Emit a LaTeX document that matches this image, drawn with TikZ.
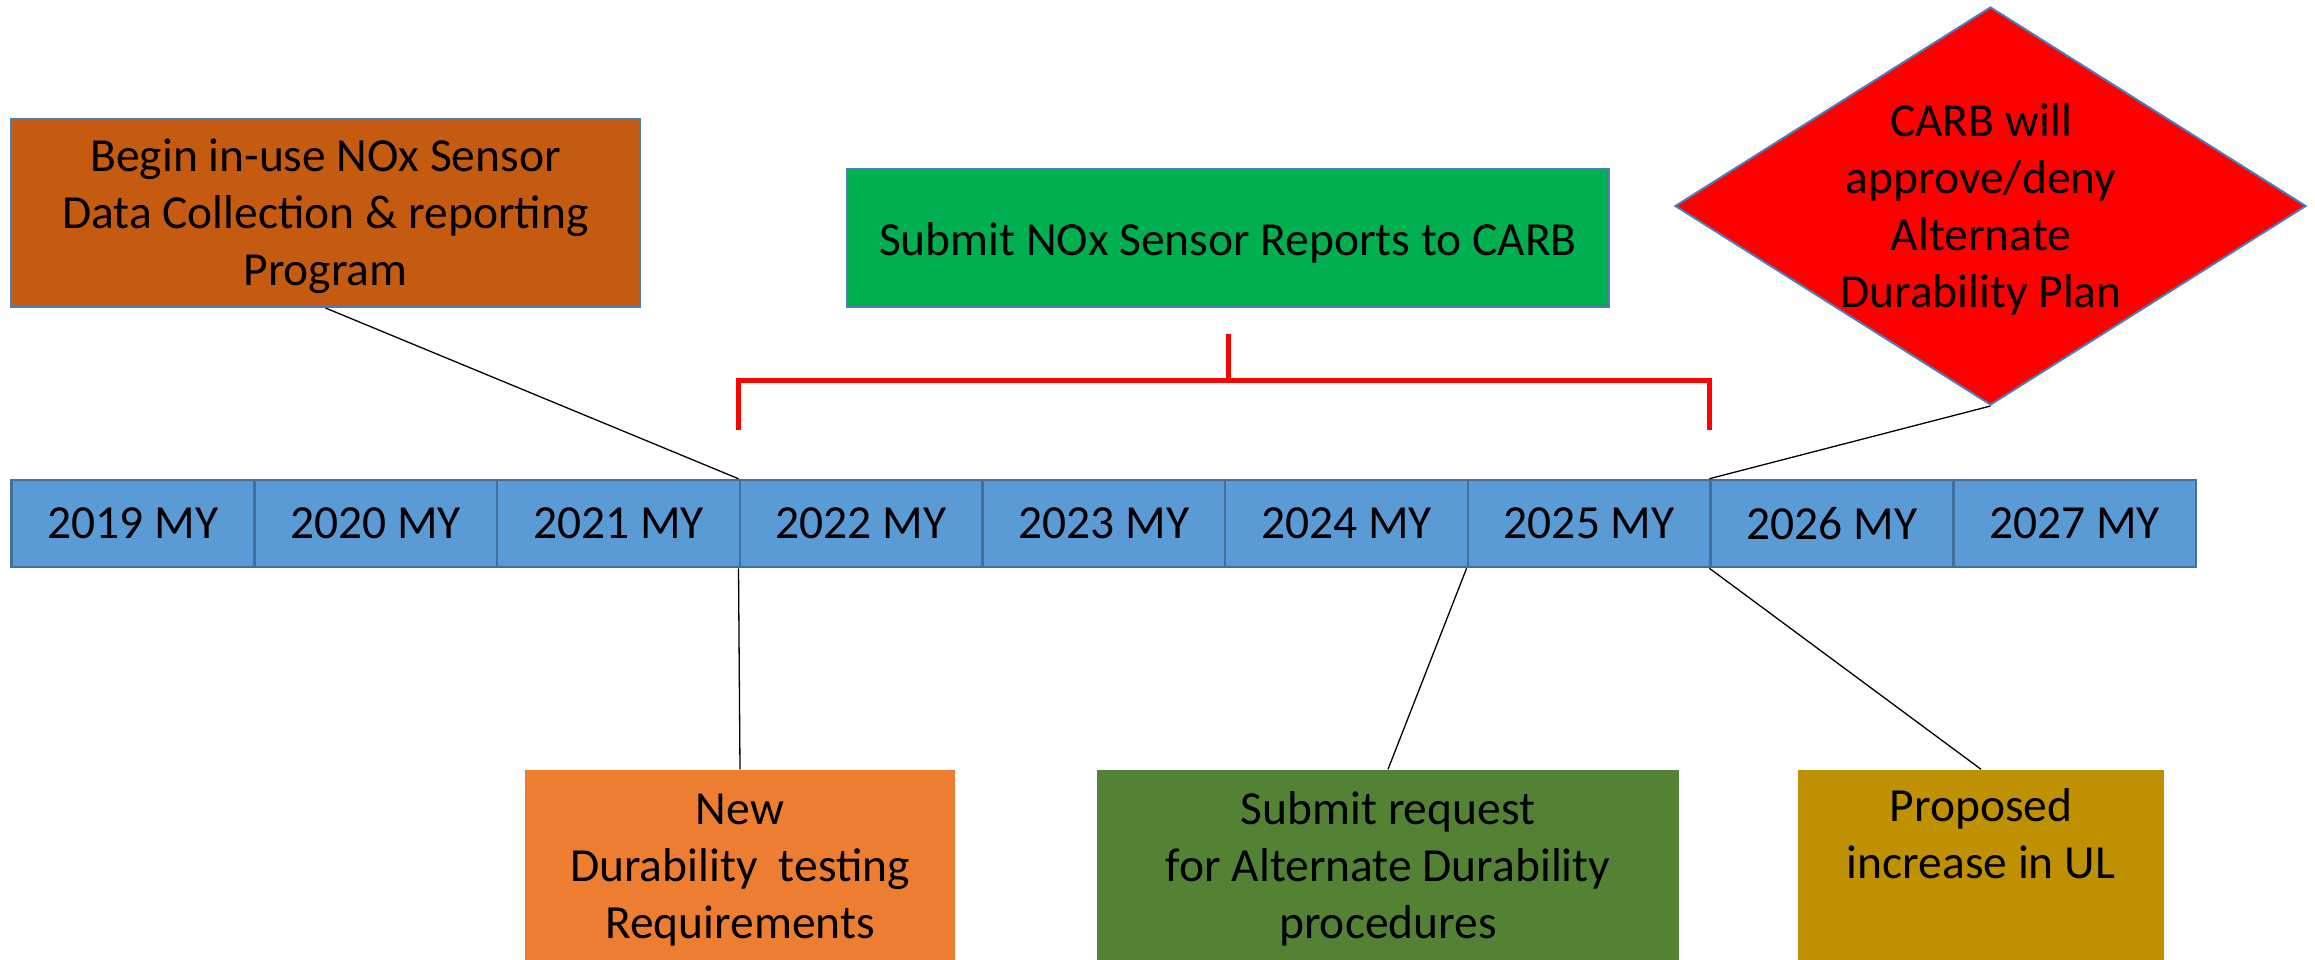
\documentclass[tikz,border=0pt]{standalone}
\usepackage{fontspec}
\setmainfont{Carlito}
\usetikzlibrary{shapes.geometric}

\definecolor{shapeblue}{HTML}{4A7EBB}
\definecolor{cellblue}{HTML}{5B9BD5}
\definecolor{cellline}{HTML}{41719C}
\definecolor{rustbrown}{HTML}{C55A11}
\definecolor{brightgreen}{HTML}{00B050}
\definecolor{pureRed}{HTML}{FF0000}
\definecolor{accentorange}{HTML}{ED7D31}
\definecolor{leafgreen}{HTML}{548235}
\definecolor{mustard}{HTML}{BF9000}

\begin{document}
\begin{tikzpicture}[x=1pt,y=-1pt,
  labelfont/.style={font=\fontsize{47.5}{57}\selectfont},
  box/.style={draw=shapeblue, line width=2pt, inner sep=0pt, align=center, labelfont},
  cell/.style={draw=cellline, fill=cellblue, line width=2.5pt, minimum width=242.7pt,
               minimum height=87pt, inner sep=0pt, labelfont},
  lowbox/.style={inner sep=0pt, minimum height=191pt},
  boxtext/.style={labelfont, align=center, anchor=base, inner sep=0pt},
  link/.style={draw=black, line width=1.3pt},
  bracket/.style={draw=pureRed, line width=5pt}]
\useasboundingbox (0,0) rectangle (2315,960);

% model-year timeline
\foreach \yr [count=\k from 0] in {2019,...,2027}
  \node[cell] (y\yr) at ({133+242.7*\k},523.5) {\yr{} MY};

% upper milestones (multi-line texts are placed by the baseline of their last line)
\node[box, fill=rustbrown, minimum width=629pt, minimum height=188pt] (begin)
  at (325.5,213) {};
\node[boxtext] (begintext) at (325.5,285)
  {Begin in-use NOx Sensor\\Data Collection \& reporting\\Program};
\node[box, fill=brightgreen, minimum width=762pt, minimum height=138pt] (submit)
  at (1228,238) {};
\node[boxtext] (submittext) at (1228,255) {Submit NOx Sensor Reports to CARB};
\node[diamond, draw=shapeblue, fill=pureRed, line width=2pt, inner sep=0pt,
      minimum width=631pt, minimum height=398pt] (carb) at (1990.5,206) {};
\node[boxtext] (carbtext) at (1981,307)
  {CARB will\\approve/deny\\Alternate\\Durability Plan};

% lower milestones
\node[lowbox, fill=accentorange, minimum width=430pt] (newreq) at (740,865) {};
\node[boxtext] (newreqtext) at (740,938)
  {New\\Durability\ \ testing\\Requirements};
\node[lowbox, fill=leafgreen, minimum width=582pt] (altreq) at (1388,865) {};
\node[boxtext] (altreqtext) at (1388,938)
  {Submit request\\for Alternate Durability\\procedures};
\node[lowbox, fill=mustard, minimum width=366pt] (ul) at (1981,865) {};
\node[boxtext] (ultext) at (1981,878) {Proposed\\increase in UL};

% reporting period bracket
\coordinate (brL) at ([yshift=98pt]y2022.north west);
\coordinate (brR) at ([yshift=98pt]y2026.north west);
\coordinate (brmid) at (submit.south |- brL);
\draw[bracket] ([yshift=-49pt]brL) -- (brL) -- (brR) -- ([yshift=-49pt]brR);
\draw[bracket] (brmid) -- ([yshift=-26pt]submit.south);

% leader lines
\draw[link] (begin.south) -- (y2022.north west);
\draw[link] (carb.south) -- (y2026.north west);
\draw[link] (y2022.south west) -- (newreq.north);
\draw[link] (y2025.south west) -- (altreq.north);
\draw[link] (y2026.south west) -- (ul.north);
\end{tikzpicture}
\end{document}
